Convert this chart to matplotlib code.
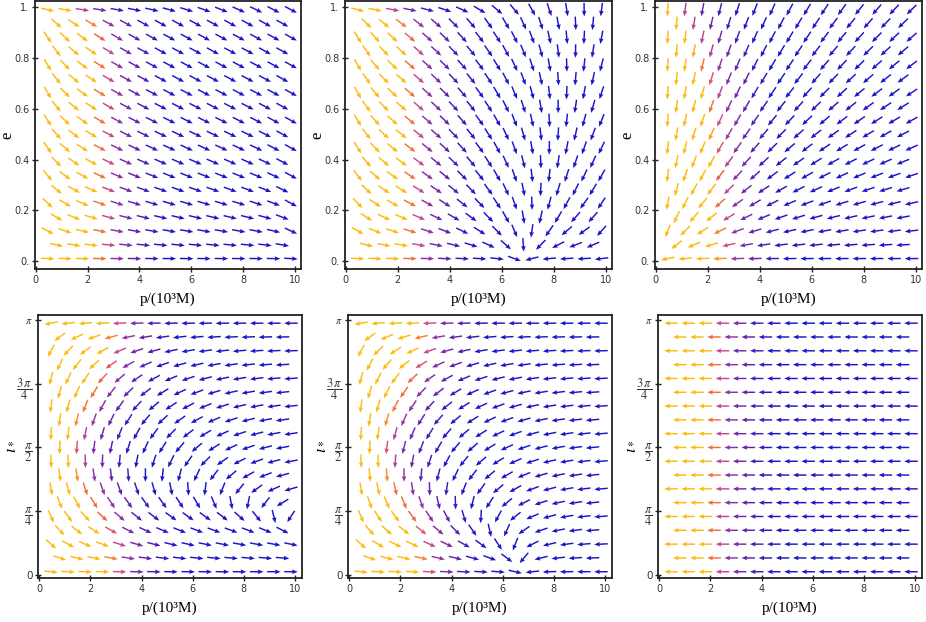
import numpy as np
import matplotlib
matplotlib.use("Agg")
import matplotlib.pyplot as plt
from matplotlib.colors import LinearSegmentedColormap

# ---------------- data ----------------
# sample grid (staggered rows, as in the reference)
p_even = [0.46, 1.13, 1.80, 2.47, 3.14, 3.81, 4.48, 5.15, 5.82, 6.49, 7.16, 7.83, 8.50, 9.17, 9.84]
p_odd = [0.80, 1.47, 2.14, 2.81, 3.48, 4.15, 4.82, 5.49, 6.16, 6.83, 7.50, 8.17, 8.84, 9.51]
e_rows = [0.010, 0.064, 0.119, 0.173, 0.228, 0.282, 0.337, 0.391, 0.446, 0.500,
          0.554, 0.609, 0.663, 0.718, 0.772, 0.827, 0.881, 0.936, 0.990]
iota_rows = [0.040, 0.210, 0.380, 0.551, 0.721, 0.891, 1.061, 1.231, 1.401, 1.571,
             1.741, 1.911, 2.081, 2.251, 2.421, 2.591, 2.762, 2.932, 3.102]

# fixed points / turning curves
p_sink = 6.75            # sink on e=0 (top middle) and iota=0 (bottom middle)
p_turn_e_slope = 2.5     # growth of the dp/dt=0 curve with e (top middle)
r_slope_left = 0.08      # dp/dt=0 curve, bottom left: cos(iota)=0.08 p
colour_edge_top = 2.4    # p where colour turns orange, top row panels
colour_edge_bottom = 2.8
colour_edge_flat = 2.05

p_ticks = [0, 2, 4, 6, 8, 10]
p_ticklabels = ["0", "2", "4", "6", "8", "10"]
e_ticks = [0, 0.2, 0.4, 0.6, 0.8, 1.0]
e_ticklabels = ["0.", "0.2", "0.4", "0.6", "0.8", "1."]
i_ticks = [0, np.pi / 4, np.pi / 2, 3 * np.pi / 4, np.pi]
i_ticklabels = ["0", r"$\dfrac{\pi}{4}$", r"$\dfrac{\pi}{2}$", r"$\dfrac{3\,\pi}{4}$", r"$\pi$"]
xlabel_text = "p/(10³M)"

# ---------------- styling ----------------
plt.rcParams["mathtext.fontset"] = "stix"
W, H = 926, 622
fig = plt.figure(figsize=(W / 100, H / 100), dpi=100)

cmap = LinearSegmentedColormap.from_list("vf", [
    (0.00, "#1a16c6"), (0.16, "#3618bc"), (0.41, "#5e20b0"), (0.54, "#7428ac"),
    (0.67, "#8c30a6"), (0.79, "#c44890"), (0.88, "#e8585c"), (0.93, "#f47436"),
    (0.97, "#fba41c"), (1.00, "#fdbb12")])


def colour_t(p, pt):
    return np.clip(0.95 - 0.38 * (p - pt), 0, 1)


def grid(rows):
    P, Y = [], []
    for k, y in enumerate(rows):
        cols = p_even if k % 2 == 0 else p_odd
        for p in cols:
            P.append(p)
            Y.append(y)
    return np.array(P), np.array(Y)


# -------- field models (screen-direction) --------
def top_slope(p, e):
    Tinf = 0.55 + 1.2 * np.exp(-(p - 0.46) / 0.8)
    e0 = 0.38 - 0.28 * np.exp((p - 9.84) / 0.7)
    S = np.tanh(e / e0)
    w = 0.1 * np.exp(-p / 3.5)
    F = np.tanh((1 - e + 0.002) / w)
    return Tinf * S * F


def f1(p, e):
    return np.ones_like(p), -top_slope(p, e)


def f2(p, e):
    pc = p_sink + p_turn_e_slope * e ** 1.1
    return 1 - p / pc, -top_slope(p, e)


def f3(p, e):
    return -p * 25.93, -e * 254.0


def D(p, i):
    D0 = 2.0 * (p / 0.46) ** -0.6 * np.exp(-(p / 8) ** 2)
    return D0 * (1 + 0.8 * (1 - np.cos(i)))


def f4(p, i):
    return np.cos(i) - r_slope_left * p, -D(p, i) * np.sin(i)


def f5(p, i):
    return np.cos(i) - p / p_sink, -D(p, i) * np.sin(i)


def f6(p, i):
    return -np.ones_like(p), np.zeros_like(p)


def pt_top(p, e):
    return colour_edge_top - 1.4 * np.exp(-(1 - e) / 0.04)


def pt_3(p, e):
    return 2.5 - 0.6 * e - 1.4 * e ** 6


def pt_bot(p, i):
    return colour_edge_bottom - 1.6 * np.abs(np.sin(i)) ** 3


def pt_flat(p, i):
    return np.full_like(p, colour_edge_flat)


panels = [
    # rect (left, top, right, bottom) in px, field, colour edge, top row?
    ((35, 1, 301, 269), f1, pt_top, True),
    ((345, 1, 611.7, 269), f2, pt_top, True),
    ((655, 1, 921.7, 269), f3, pt_3, True),
    ((38, 315, 301.7, 578), f4, pt_bot, False),
    ((348, 315, 611.7, 578), f5, pt_bot, False),
    ((658, 315, 921.7, 578), f6, pt_flat, False),
]

for rect, field, ptf, top in panels:
    l, t, r, b = rect
    ax = fig.add_axes([l / W, 1 - b / H, (r - l) / W, (b - t) / H])
    if top:
        P, Y = grid(e_rows)
        ax.set_xlim(-0.03, 10.23)
        ax.set_ylim(-0.031, 1.024)
    else:
        P, Y = grid(iota_rows)
        ax.set_xlim(-0.05, 10.26)
        ax.set_ylim(-0.037, 3.203)
    U, V = field(P, Y)
    U = np.broadcast_to(U, P.shape).astype(float)
    V = np.broadcast_to(V, P.shape).astype(float)
    n = np.hypot(U, V)
    U, V = U / n, V / n
    cols = cmap(colour_t(P, ptf(P, Y)))
    ax.quiver(P, Y, U, V, color=cols, angles="uv", pivot="middle",
              units="dots", scale_units="dots", scale=1 / 13.5,
              width=1.45, headwidth=3.2, headlength=3.9, headaxislength=3.5)
    ax.set_xticks(p_ticks)
    ax.set_xticklabels(p_ticklabels)
    ax.tick_params(direction="inout", length=4, width=1,
                   labelcolor="#333333", color="#222222", pad=2, labelsize=7)
    if top:
        ax.set_yticks(e_ticks)
        ax.set_yticklabels(e_ticklabels)
        fig.text((l - 28) / W, 1 - (t + b) / 2 / H, "e", family="Liberation Serif",
                 fontsize=12, rotation=90, ha="center", va="center")
    else:
        ax.set_yticks(i_ticks)
        ax.set_yticklabels(i_ticklabels)
        for lab, txt in zip(ax.get_yticklabels(), i_ticklabels):
            lab.set_fontsize(9 if "frac" in txt else 7.5)
        fig.text((l - 29) / W, 1 - (t + b) / 2 / H, r"$\iota_*$",
                 fontsize=12, rotation=90, ha="center", va="center")
    ax.set_xlabel(xlabel_text, family="Liberation Serif", fontsize=11, labelpad=6)
    for sp in ax.spines.values():
        sp.set_linewidth(1.3)
        sp.set_color("#222222")

fig.savefig("out.png", dpi=100)
